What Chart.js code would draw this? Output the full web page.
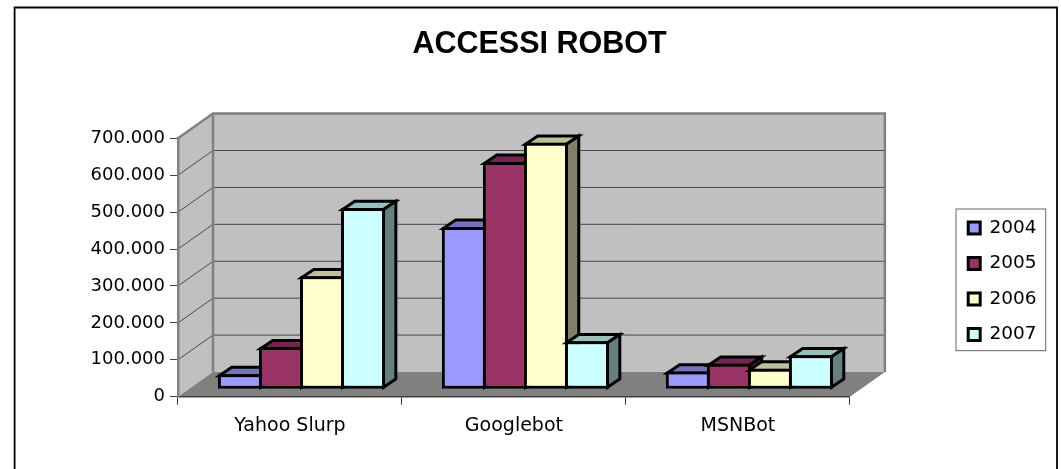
<!DOCTYPE html>
<html lang="it">
<head>
<meta charset="utf-8">
<title>ACCESSI ROBOT</title>
<script src="https://cdn.jsdelivr.net/npm/chart.js@4"></script>
<style>
  html, body { margin: 0; padding: 0; background: #fff; }
  canvas { display: block; }
</style>
</head>
<body>
<canvas id="chart" width="1061" height="469"></canvas>
<script>
// dati
const robots = ['Yahoo Slurp', 'Googlebot', 'MSNBot'];
const years = ['2004', '2005', '2006', '2007'];
const values2004 = [41000, 440000, 48000];
const values2005 = [114000, 616000, 69000];
const values2006 = [306000, 668000, 56000];
const values2007 = [491000, 130000, 92000];
const allValues = [values2004, values2005, values2006, values2007];

const frontColors = ['#9999FF', '#993366', '#FFFFCC', '#CCFFFF'];
const topColors = ['#7373BF', '#732650', '#BFBF99', '#99BFBF'];
const sideColors = ['#5C5C99', '#5C1F3D', '#808066', '#668080'];

// profondità della scatola 3D e delle barre
const WALL_DX = 35, WALL_DY = -24.7;
const BAR_SHIFT_X = 11.5, BAR_SHIFT_Y = -7.4;
const BAR_DX = 12.3, BAR_DY = -8.3;
const BAR_LINE = 3;

function poly(ctx, pts) {
  ctx.beginPath();
  pts.forEach((p, i) => (i ? ctx.lineTo(p[0], p[1]) : ctx.moveTo(p[0], p[1])));
  ctx.closePath();
}

// ── cornice, pareti, pavimento, griglia ─────────────────
const box3d = {
  id: 'box3d',
  afterLayout(chart) {
    // legenda e titolo non seguono il layout automatico
    const lg = chart.legend;
    lg.left = 968.2 - lg.options.labels.padding;
    lg.right = 1050;
    lg.top = 201.75;
    lg.bottom = 469;
    chart.titleBlock.left = 18;
    chart.titleBlock.right = 1061;
  },
  beforeDraw(chart) {
    const { ctx, chartArea: a, scales: { y } } = chart;
    ctx.save();
    ctx.fillStyle = '#fff';
    ctx.fillRect(0, 0, chart.width, chart.height);

    ctx.strokeStyle = '#000';
    ctx.lineWidth = 1.8;
    ctx.beginPath();
    ctx.moveTo(14.6, 469);
    ctx.lineTo(14.6, 7.5);
    ctx.lineTo(1057, 7.5);
    ctx.lineTo(1057, 469);
    ctx.stroke();

    const bl = [a.left, a.bottom], br = [a.right, a.bottom], tl = [a.left, a.top];
    const back = p => [p[0] + WALL_DX, p[1] + WALL_DY];
    const backTr = [a.right + WALL_DX, a.top + WALL_DY];
    const backBr = back(br);

    ctx.fillStyle = '#C0C0C0';
    poly(ctx, [bl, back(bl), back(tl), tl]);
    ctx.fill();
    poly(ctx, [back(bl), back(tl), backTr, backBr]);
    ctx.fill();
    ctx.fillStyle = '#808080';
    poly(ctx, [bl, br, backBr, back(bl)]);
    ctx.fill();

    ctx.strokeStyle = '#484848';
    ctx.lineWidth = 1;
    y.ticks.forEach(t => {
      if (t.value === 0 || t.value === y.max) return;
      const py = y.getPixelForValue(t.value);
      ctx.beginPath();
      ctx.moveTo(a.left, py);
      ctx.lineTo(a.left + WALL_DX, py + WALL_DY);
      ctx.lineTo(a.right + WALL_DX, py + WALL_DY);
      ctx.stroke();
    });

    ctx.strokeStyle = '#808080';
    ctx.lineWidth = 2.5;
    ctx.beginPath();
    ctx.moveTo(a.left, a.top);
    ctx.lineTo(a.left + WALL_DX, a.top + WALL_DY);
    ctx.lineTo(backTr[0], backTr[1]);
    ctx.lineTo(backBr[0], backBr[1]);
    ctx.stroke();
    ctx.beginPath();
    ctx.moveTo(a.left + WALL_DX, a.top + WALL_DY);
    ctx.lineTo(a.left + WALL_DX, a.bottom + WALL_DY);
    ctx.stroke();

    // riquadro legenda
    ctx.strokeStyle = '#666';
    ctx.lineWidth = 1;
    ctx.strokeRect(956, 209, 89.7, 141.7);
    ctx.restore();
  },
  // le barre vanno dipinte da sinistra a destra, Chart.js farebbe il contrario
  beforeDatasetsDraw(chart) {
    const ctx = chart.ctx;
    const inset = BAR_LINE / 2;
    ctx.save();
    ctx.translate(BAR_SHIFT_X, BAR_SHIFT_Y);
    years.forEach((year, index) => {
      const meta = chart.getDatasetMeta(index);
      ctx.strokeStyle = '#000';
      ctx.lineWidth = BAR_LINE;
      ctx.lineJoin = 'miter';
      meta.data.forEach(bar => {
        const l = bar.x - bar.width / 2 + inset;
        const r = bar.x + bar.width / 2 - inset;
        const t = bar.y + inset;
        const b = bar.base - inset;
        ctx.fillStyle = topColors[index];
        poly(ctx, [[l, t], [r, t], [r + BAR_DX, t + BAR_DY], [l + BAR_DX, t + BAR_DY]]);
        ctx.fill();
        ctx.stroke();
        ctx.fillStyle = sideColors[index];
        poly(ctx, [[r, t], [r + BAR_DX, t + BAR_DY], [r + BAR_DX, b + BAR_DY], [r, b]]);
        ctx.fill();
        ctx.stroke();
      });
      meta.controller.draw();
    });
    ctx.restore();
    return false;
  },
};

new Chart(document.getElementById('chart'), {
  type: 'bar',
  plugins: [box3d],
  data: {
    labels: robots,
    datasets: years.map((year, i) => ({
      label: year,
      data: allValues[i],
      backgroundColor: frontColors[i],
      borderColor: '#000',
      borderWidth: BAR_LINE,
      borderSkipped: false,
      categoryPercentage: 0.733,
      barPercentage: 1.073,
    })),
  },
  options: {
    responsive: false,
    animation: false,
    layout: { padding: { left: 0, right: 115.8, top: 0, bottom: 0 } },
    plugins: {
      tooltip: { enabled: false },
      title: {
        display: true,
        text: 'ACCESSI ROBOT',
        color: '#000',
        font: { family: '"Liberation Sans"', size: 30.5, weight: 'bold' },
        padding: { top: 26.2, bottom: 75.5 },
      },
      legend: {
        position: 'right',
        align: 'start',
        labels: {
          color: '#000',
          font: { family: '"DejaVu Sans"', size: 18.5 },
          boxWidth: 12,
          boxHeight: 12,
          padding: 17,
        },
      },
    },
    scales: {
      x: {
        afterFit(s) { s.height = 72.3; },
        grid: { drawOnChartArea: false, color: '#333', tickLength: 8 },
        border: { color: '#404040', width: 1.5 },
        ticks: {
          color: '#000',
          padding: 10,
          maxRotation: 0,
          font: { family: '"DejaVu Sans"', size: 19 },
        },
      },
      y: {
        min: 0,
        max: 700000,
        afterFit(s) { s.width = 178; },
        grid: { drawOnChartArea: false, color: '#444', tickLength: 8 },
        border: { color: '#808080', width: 2.5 },
        ticks: {
          color: '#000',
          stepSize: 100000,
          padding: 5,
          font: { family: '"DejaVu Sans"', size: 18 },
          callback: v => String(v).replace(/\B(?=(\d{3})+$)/g, '.'),
        },
      },
    },
  },
});
</script>
</body>
</html>
